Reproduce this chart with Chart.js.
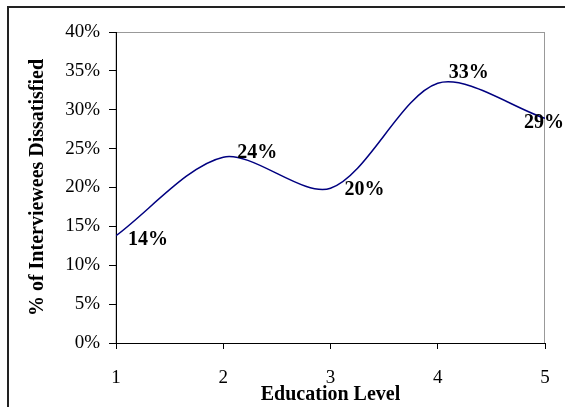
<!DOCTYPE html>
<html>
<head>
<meta charset="utf-8">
<script src="https://cdn.jsdelivr.net/npm/chart.js@4.4.1/dist/chart.umd.min.js"></script>
<style>
  html, body { margin: 0; padding: 0; background: #fff; }
  #wrap { width: 565px; height: 407px; position: relative; }
</style>
</head>
<body>
<div id="wrap"><canvas id="chart-edu"></canvas></div>
<script>
// education level vs share of dissatisfied interviewees
var levels = [1, 2, 3, 4, 5];
var dissatisfied = [13.8, 23.9, 19.9, 33.4, 28.9];
var pointLabels = ["14%", "24%", "20%", "33%", "29%"];
var yTicks = [0, 5, 10, 15, 20, 25, 30, 35, 40];

var serif = "'Liberation Serif', 'Times New Roman', serif";

// frame round the whole chart and grey box round the plot
var framePlugin = {
  id: "frame",
  beforeDraw: function (chart) {
    var c = chart.ctx, a = chart.chartArea;
    c.save();
    c.strokeStyle = "#222";
    c.lineWidth = 2;
    c.strokeRect(8, 7, 700, 600);
    c.strokeStyle = "#999";
    c.lineWidth = 1;
    c.strokeRect(a.left, a.top + 0.5, a.right - a.left - 0.5, a.bottom - a.top);
    c.restore();
  }
};

// bold value labels next to each point
var valueLabels = {
  id: "valueLabels",
  afterDatasetsDraw: function (chart) {
    var c = chart.ctx;
    var offs = [[12, 4], [14, -4], [14, 2], [11, -10], [-21, 5]];
    var pts = chart.getDatasetMeta(0).data;
    c.save();
    c.font = "bold 20px " + serif;
    c.fillStyle = "#000";
    c.textAlign = "left";
    c.textBaseline = "middle";
    pts.forEach(function (p, i) {
      c.fillText(pointLabels[i], p.x + offs[i][0], p.y + offs[i][1]);
    });
    c.restore();
  }
};

var ctx = document.getElementById("chart-edu").getContext("2d");

var myChart = new Chart(ctx, {
  type: "line",
  data: {
    datasets: [{
      label: "% of Interviewees Dissatisfied",
      data: levels.map(function (x, i) { return { x: x, y: dissatisfied[i] }; }),
      borderColor: "#000080",
      borderWidth: 1.5,
      fill: false,
      tension: 0.3,
      pointRadius: 0,
      pointHoverRadius: 0
    }]
  },
  options: {
    responsive: true,
    maintainAspectRatio: false,
    animation: false,
    layout: { padding: { top: 32, right: 20, left: 0, bottom: 0 } },
    plugins: {
      legend: { display: false },
      tooltip: { enabled: false }
    },
    scales: {
      x: {
        type: "linear",
        min: 1,
        max: 5,
        afterFit: function (s) { s.height = 64; s.paddingLeft = 0; s.paddingRight = 0; },
        afterBuildTicks: function (s) { s.ticks = levels.map(function (v) { return { value: v }; }); },
        grid: { drawOnChartArea: false, drawTicks: true, tickLength: 6, color: "#000" },
        border: { display: true, color: "#000", width: 1 },
        ticks: {
          padding: 18,
          maxRotation: 0,
          color: "#000",
          font: { family: serif, size: 19 }
        },
        title: {
          display: true,
          text: "Education Level",
          color: "#000",
          padding: { top: 0, bottom: 0 },
          font: { family: serif, size: 20, weight: "bold" }
        }
      },
      y: {
        min: 0,
        max: 40,
        afterFit: function (s) { s.width = 116; s.paddingTop = 0; s.paddingBottom = 0; },
        afterBuildTicks: function (s) { s.ticks = yTicks.map(function (v) { return { value: v }; }); },
        grid: { drawOnChartArea: false, drawTicks: true, tickLength: 7, color: "#000" },
        border: { display: true, color: "#000", width: 1 },
        ticks: {
          padding: 9,
          color: "#000",
          font: { family: serif, size: 19 },
          callback: function (value) { return value + "%"; }
        },
        title: {
          display: true,
          text: "% of Interviewees Dissatisfied",
          color: "#000",
          padding: { top: 26, bottom: 0 },
          font: { family: serif, size: 20, weight: "bold" }
        }
      }
    }
  },
  plugins: [framePlugin, valueLabels]
});
</script>
</body>
</html>
